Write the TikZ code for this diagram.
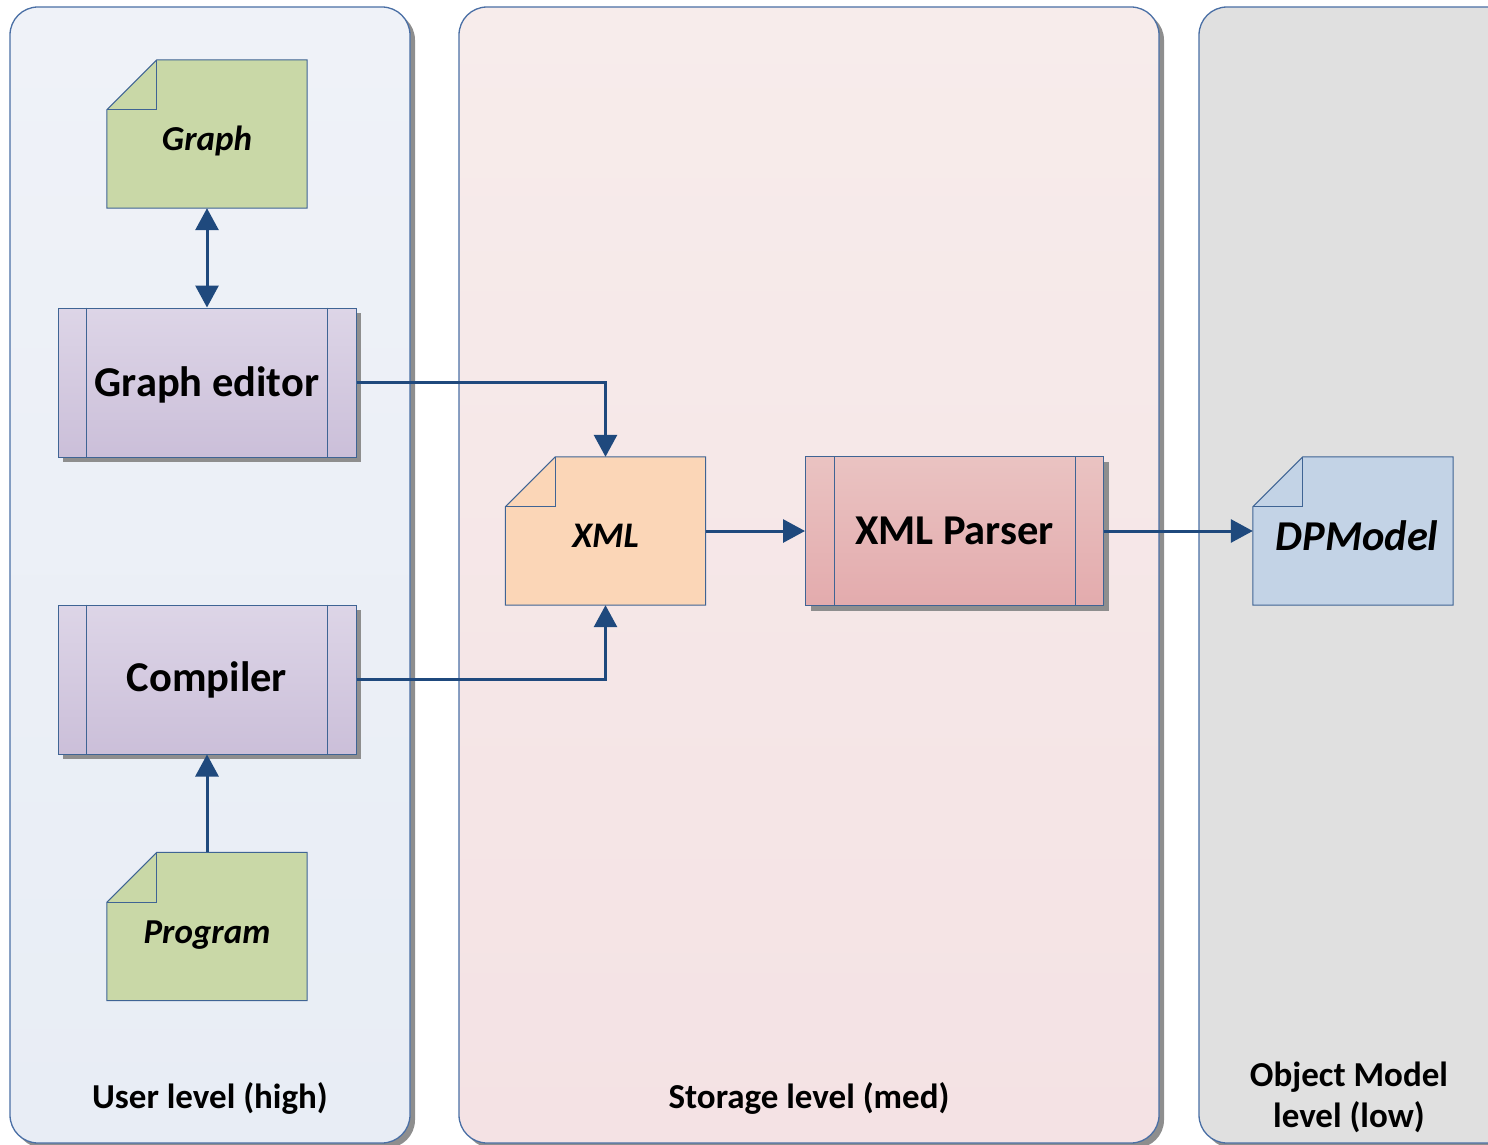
\documentclass[tikz,border=0pt]{standalone}
\usepackage{fontspec}
\setmainfont{Carlito}
\usetikzlibrary{arrows.meta,calc}
\definecolor{edgec}{HTML}{3F6494}
\definecolor{lanec}{HTML}{4A6FA5}
\definecolor{arrowc}{HTML}{1F497D}
\definecolor{shadowc}{HTML}{8E8E8E}
\definecolor{greenc}{HTML}{C9D8A7}
\definecolor{lavtop}{HTML}{DDD5E7}
\definecolor{lavbot}{HTML}{CBBFD9}
\definecolor{xmlc}{HTML}{FBD6B7}
\definecolor{partop}{HTML}{EAC3C2}
\definecolor{parbot}{HTML}{E3ABAD}
\definecolor{dpmc}{HTML}{C3D3E6}
\definecolor{laneAtop}{HTML}{EFF2F8}
\definecolor{laneAbot}{HTML}{E8EDF5}
\definecolor{laneBtop}{HTML}{F7ECEB}
\definecolor{laneBbot}{HTML}{F4E2E4}
\definecolor{laneCc}{HTML}{E0E0E0}
\pgfdeclarelayer{lanes}
\pgfdeclarelayer{docs}
\pgfsetlayers{lanes,docs,main}
\tikzset{
  lanebox/.style={draw=lanec, line width=1.3pt, rounded corners=28pt, minimum width=400pt, minimum height=1136pt, inner sep=0pt,
    preaction={fill=shadowc, transform canvas={shift={(5pt,-5pt)}}}},
  procbox/.style={draw=edgec, line width=1pt, minimum width=298pt, minimum height=149pt, inner sep=0pt,
    font=\fontsize{42.5}{50}\selectfont\bfseries,
    preaction={fill=shadowc, transform canvas={shift={(5pt,-5pt)}}}},
  docbox/.style={minimum width=200pt, minimum height=148pt, inner sep=0pt, font=\fontsize{35}{40}\selectfont\bfseries\itshape},
  lanelabel/.style={font=\fontsize{35}{41}\selectfont\bfseries, align=center},
  arr/.style={draw=arrowc, line width=3pt, -{Triangle[length=22pt,width=23pt]}},
  arrboth/.style={draw=arrowc, line width=3pt, {Triangle[length=22pt,width=23pt]}-{Triangle[length=22pt,width=23pt]}}
}
\newcommand{\lowered}[2]{\raisebox{-#1}[\height][\depth]{#2}}
\newcommand{\procbars}[1]{%
  \draw[edgec, line width=1pt] ($(#1.north west)+(29,0)$) -- ($(#1.south west)+(29,0)$);
  \draw[edgec, line width=1pt] ($(#1.north east)+(-29,0)$) -- ($(#1.south east)+(-29,0)$);}
\newcommand{\docshape}[2]{%
  \begin{pgfonlayer}{docs}
  \filldraw[fill=#2, draw=edgec, line width=1pt]
    ($(#1.north west)+(50,0)$) -- (#1.north east) -- (#1.south east) -- (#1.south west) -- ($(#1.north west)+(0,50)$) -- cycle;
  \draw[edgec, line width=1pt] ($(#1.north west)+(0,50)$) -- ($(#1.north west)+(50,50)$) -- ($(#1.north west)+(50,0)$);
  \end{pgfonlayer}}
\begin{document}
\begin{tikzpicture}[x=1pt,y=-1pt]
\useasboundingbox (0,0) rectangle (1488,1145);
\clip (0,0) rectangle (1488,1145);
% lanes
\begin{pgfonlayer}{lanes}
\node[lanebox, minimum width=400pt, top color=laneAtop, bottom color=laneAbot] (userlane) at (210,575) {};
\node[lanebox, minimum width=700pt, top color=laneBtop, bottom color=laneBbot] (storelane) at (809,575) {};
\node[lanebox, minimum width=320pt, fill=laneCc] (objlane) at (1359,575) {};
\end{pgfonlayer}
\node[lanelabel] (userlbl) at (210,1098) {User level (high)};
\node[lanelabel] (storelbl) at (809,1098) {Storage level (med)};
\node[lanelabel] (objlbl) at (1349,1097) {Object Model\\level (low)};
% documents
\node[docbox] (graph) at (207,134) {\lowered{7pt}{Graph}};
\docshape{graph}{greenc}
\node[docbox] (prog) at (207,926.5) {\lowered{9pt}{Program}};
\docshape{prog}{greenc}
\node[docbox, font=\fontsize{36}{40}\selectfont\bfseries\itshape] (xml) at (605.5,531) {\lowered{5pt}{XML}};
\docshape{xml}{xmlc}
\node[docbox, font=\fontsize{42.5}{48}\selectfont\bfseries\itshape] (dpm) at (1353,531) {\lowered{5pt}{\hspace*{8pt}DPModel}};
\docshape{dpm}{dpmc}
% processes
\node[procbox, top color=lavtop, bottom color=lavbot] (ge) at (207,382.5) {\lowered{2pt}{Graph editor}};
\procbars{ge}
\node[procbox, top color=lavtop, bottom color=lavbot] (comp) at (207,679.5) {Compiler};
\procbars{comp}
\node[procbox, top color=partop, bottom color=parbot] (parser) at (954.5,531) {XML Parser};
\procbars{parser}
% connectors
\draw[arrboth] (graph.south) -- (ge.north);
\draw[arr] (prog.north) -- (comp.south);
\draw[arr] (ge.east) -| (xml.north);
\draw[arr] (comp.east) -| (xml.south);
\draw[arr] (xml.east) -- (parser.west);
\draw[arr] (parser.east) -- (dpm.west);
\end{tikzpicture}
\end{document}
